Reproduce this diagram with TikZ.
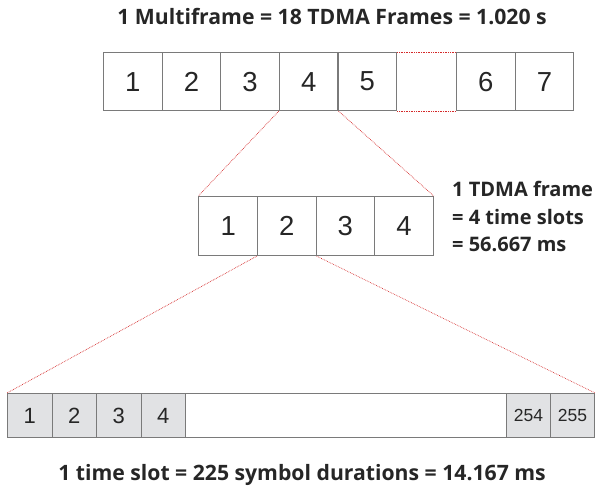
\documentclass[tikz,border=0pt]{standalone}
\usepackage{fontspec}
\setmainfont{Liberation Sans}
\newfontfamily\labfont{Open Sans}
\definecolor{boxgray}{HTML}{7A7A7A}
\definecolor{slotfill}{HTML}{E1E2E4}
\definecolor{linkred}{HTML}{D42A2A}
\begin{document}
\begin{tikzpicture}[x=1pt,y=-1pt,
  cell/.style={draw=boxgray, line width=1.1pt, inner sep=0pt, anchor=north west,
    font=\fontsize{27.5}{27.5}\selectfont, text=black!85},
  topcell/.style={cell, minimum width=58.6pt, minimum height=58pt},
  midcell/.style={cell, minimum width=58.6pt, minimum height=59pt},
  slotcell/.style={cell, fill=slotfill, minimum width=44.5pt, minimum height=44pt,
    font=\fontsize{22}{22}\selectfont},
  smallslot/.style={slotcell, minimum width=44pt, font=\fontsize{17.5}{17.5}\selectfont},
  link/.style={draw=linkred, line width=0.7pt, densely dotted},
  caption/.style={font=\labfont\bfseries\fontsize{20}{20}\selectfont, text=black!85,
    inner sep=0pt, anchor=base},
  bigcaption/.style={caption, font=\labfont\bfseries\fontsize{21.2}{21.2}\selectfont}]
\useasboundingbox (0,0) rectangle (598,486);
% title
\node[bigcaption] (title) at (332,25) {1 Multiframe = 18 TDMA Frames = 1.020 s};
% top row
\node[topcell] (t1) at (103,52) {1};
\node[topcell] (t2) at (161.6,52) {2};
\node[topcell] (t3) at (220.2,52) {3};
\node[topcell] (t4) at (278.8,52) {4};
\node[topcell] (t5) at (337.4,52) {5};
\node[topcell] (t6) at (456,52) {6};
\node[topcell] (t7) at (514.6,52) {7};
\draw[link] (t5.north east) -- (t6.north west);
\draw[link] (t5.south east) -- (t6.south west);
% middle row
\node[midcell] (m1) at (198.3,196) {1};
\node[midcell] (m2) at (256.9,196) {2};
\node[midcell] (m3) at (315.5,196) {3};
\node[midcell] (m4) at (374.1,196) {4};
\node[caption, anchor=base west] (fr1) at (452,197) {1 TDMA frame};
\node[caption, anchor=base west] (fr2) at (452,224.5) {= 4 time slots};
\node[caption, anchor=base west] (fr3) at (452,252) {= 56.667 ms};
% links top->middle
\draw[link] (t4.south west) -- (m1.north west);
\draw[link] (t4.south east) -- (m4.north east);
% bottom row
\node[slotcell] (s1) at (7,393) {1};
\node[slotcell] (s2) at (51.5,393) {2};
\node[slotcell] (s3) at (96,393) {3};
\node[slotcell] (s4) at (140.5,393) {4};
\node[cell, minimum width=321pt, minimum height=44pt] (sgap) at (185,393) {};
\node[smallslot] (s254) at (506,393) {254};
\node[smallslot] (s255) at (550,393) {255};
% links middle->bottom
\draw[link] (m2.south west) -- (s1.north west);
\draw[link] (m2.south east) -- (s255.north east);
\node[bigcaption] (slotcap) at (302,481) {1 time slot = 225 symbol durations = 14.167 ms};
\end{tikzpicture}
\end{document}
